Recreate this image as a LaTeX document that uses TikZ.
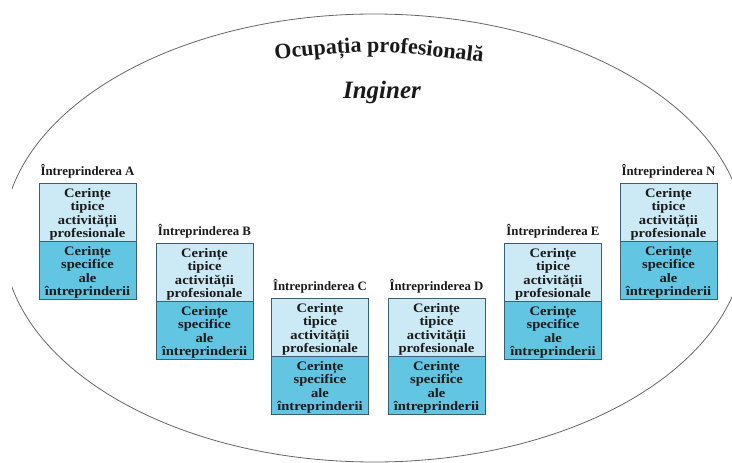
\documentclass[tikz,border=0pt]{standalone}
\usepackage{fontspec}
\setmainfont{Liberation Serif}
\newfontfamily\boxfont[FakeStretch=1.12]{Liberation Serif}
\usetikzlibrary{decorations.text}
\definecolor{upfill}{HTML}{CBEAF5}
\definecolor{lowfill}{HTML}{62C5E2}
\definecolor{boxline}{HTML}{3B5F73}
\definecolor{ringline}{HTML}{666666}
\definecolor{ink}{HTML}{1A1A1A}
\tikzset{
  half/.style={draw=boxline, line width=0.8pt, minimum width=97pt, minimum height=58pt,
    text width=95pt, inner sep=1pt, outer sep=0pt, align=center, text=ink,
    font=\boxfont\bfseries\fontsize{13}{13.5}\selectfont},
  upbox/.style={half, fill=upfill},
  lowbox/.style={half, fill=lowfill},
  firmlbl/.style={anchor=south, inner sep=0pt, outer sep=0pt, text=ink,
    font=\bfseries\fontsize{12.8}{13}\selectfont},
  ring/.style={draw=ringline, line width=0.8pt},
}
\newcommand{\firm}[4]{%
  \node[upbox] (#1u) at (#2,#3) {Cerințe\\tipice\\activității\\profesionale\par\vspace*{-5pt}};
  \node[lowbox, anchor=north] (#1l) at (#1u.south) {Cerințe\\specifice\\ale\\întreprinderii\par\vspace*{-5pt}};
  \node[firmlbl] (#1t) at ([yshift=5pt]#1u.north) {Întreprinderea #4};
}
\begin{document}
\begin{tikzpicture}[x=1pt,y=1pt]
\useasboundingbox (0,0) rectangle (732,-463);
\begin{scope}
  \clip (12,0) rectangle (732,-463);
  \draw[ring] (374,-238) ellipse [x radius=371, y radius=224];
\end{scope}
\coordinate (ts) at (270,-60);
\coordinate (tc) at (378,-49);
\coordinate (te) at (488,-63);
\path[decorate, decoration={text along path, text align=center,
  text={|\color{ink}\bfseries\fontsize{22}{24}\selectfont|Ocupația profesională}}]
  (ts) .. controls (tc) .. (te);
\node[font=\bfseries\itshape\fontsize{25}{28}\selectfont, text=ink] (ing) at (382,-92) {Inginer};
\firm{A}{87.5}{-212}{A}
\firm{B}{204.5}{-272}{B}
\firm{C}{320}{-327}{C}
\firm{D}{436.5}{-327}{D}
\firm{E}{553}{-272}{E}
\firm{N}{668.5}{-212}{N}
\end{tikzpicture}
\end{document}
